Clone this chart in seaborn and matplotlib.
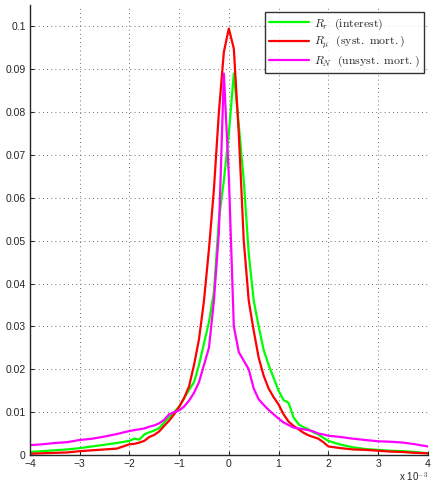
import numpy as np
import pandas as pd
import matplotlib
matplotlib.use('Agg')
import matplotlib.pyplot as plt
import seaborn as sns

# x positions (in units of 1e-3)
x_vals = [-4.0, -3.75, -3.5, -3.25, -3.0, -2.75, -2.5, -2.25,
          -2.0, -1.9, -1.8, -1.7, -1.6, -1.5, -1.4, -1.3, -1.2, -1.1,
          -1.0, -0.9, -0.8, -0.7, -0.6, -0.5, -0.4, -0.3, -0.2, -0.1,
          0.0, 0.1, 0.2, 0.3, 0.4, 0.5, 0.6, 0.7, 0.8, 0.9,
          1.0, 1.1, 1.2, 1.3, 1.4, 1.5, 1.6, 1.7, 1.8, 1.9, 2.0,
          2.25, 2.5, 2.75, 3.0, 3.25, 3.5, 3.75, 4.0]

# interest
r_interest = [0.0007, 0.0009, 0.0011, 0.0013, 0.0016, 0.0020, 0.0024, 0.0028,
              0.0033, 0.0038, 0.0036, 0.0048, 0.0053, 0.0057, 0.0063, 0.0076, 0.0088, 0.0100,
              0.0113, 0.0132, 0.0152, 0.0170, 0.0210, 0.0260, 0.0310, 0.0380, 0.0550, 0.0640,
              0.0750, 0.0890, 0.0770, 0.0640, 0.0470, 0.0360, 0.0300, 0.0245, 0.0210, 0.0180,
              0.0150, 0.0128, 0.0122, 0.0088, 0.0072, 0.0065, 0.0060, 0.0053, 0.0048, 0.0040, 0.0033,
              0.0024, 0.0018, 0.0014, 0.0012, 0.0010, 0.0009, 0.0007, 0.0004]

# systematic mortality
r_mu = [0.0003, 0.0004, 0.0005, 0.0006, 0.0009, 0.0011, 0.0013, 0.0015,
        0.0025, 0.0026, 0.0029, 0.0033, 0.0042, 0.0047, 0.0055, 0.0068, 0.0080, 0.0095,
        0.0112, 0.0133, 0.0160, 0.0210, 0.0270, 0.0360, 0.0480, 0.0620, 0.0800, 0.0940,
        0.0995, 0.0948, 0.0750, 0.0500, 0.0360, 0.0290, 0.0227, 0.0185, 0.0155, 0.0135,
        0.0118, 0.0095, 0.0078, 0.0068, 0.0060, 0.0052, 0.0046, 0.0042, 0.0038, 0.0030, 0.0020,
        0.0016, 0.0013, 0.0012, 0.0010, 0.0008, 0.0007, 0.0005, 0.0004]

# unsystematic mortality
r_n = [0.0023, 0.0025, 0.0028, 0.0030, 0.0035, 0.0038, 0.0043, 0.0049,
       0.0056, 0.0058, 0.0060, 0.0062, 0.0066, 0.0069, 0.0074, 0.0082, 0.0095, 0.0100,
       0.0104, 0.0113, 0.0127, 0.0145, 0.0170, 0.0210, 0.0250, 0.0360, 0.0520, 0.0890,
       0.0650, 0.0300, 0.0240, 0.0220, 0.0200, 0.0155, 0.0130, 0.0117, 0.0105, 0.0095,
       0.0085, 0.0076, 0.0070, 0.0064, 0.0062, 0.0060, 0.0058, 0.0055, 0.0050, 0.0048, 0.0045,
       0.0042, 0.0038, 0.0035, 0.0032, 0.0031, 0.0029, 0.0025, 0.0020]

labels = [r'$R_r\ \ \mathrm{(interest)}$',
          r'$R_\mu\ \ \mathrm{(syst.\ mort.)}$',
          r'$R_N\ \ \mathrm{(unsyst.\ mort.)}$']
colors = ['#00ff00', '#ff0000', '#ff00ff']

df = pd.DataFrame({'x': x_vals * 3,
                   'y': r_interest + r_mu + r_n,
                   'series': [labels[0]] * len(x_vals) + [labels[1]] * len(x_vals)
                   + [labels[2]] * len(x_vals)})

sns.set_style('ticks')
plt.rcParams['font.family'] = ['Liberation Sans', 'DejaVu Sans']
plt.rcParams['mathtext.fontset'] = 'cm'

fig = plt.figure(figsize=(4.33, 4.9), dpi=100)
ax = fig.add_axes([0.069, 0.0714, 0.919, 0.9186])

sns.lineplot(data=df, x='x', y='y', hue='series', palette=colors,
             linewidth=1.6, ax=ax, legend=True)

ax.set_xlim(-4, 4)
ax.set_ylim(0, 0.105)
ax.set_xticks(range(-4, 5))
ax.set_xticklabels(['\u22124', '\u22123', '\u22122', '\u22121', '0', '1', '2', '3', '4'])
yt = [0, 0.01, 0.02, 0.03, 0.04, 0.05, 0.06, 0.07, 0.08, 0.09, 0.1]
ax.set_yticks(yt)
ax.set_yticklabels(['0', '0.01', '0.02', '0.03', '0.04', '0.05', '0.06',
                    '0.07', '0.08', '0.09', '0.1'])
ax.tick_params(labelsize=7.5, direction='in', length=3, width=0.8, pad=3)
ax.grid(True, linestyle=(0, (1, 4)), color='#444444', linewidth=0.6)
ax.set_xlabel('')
ax.set_ylabel('')
for s in ['top', 'right']:
    ax.spines[s].set_visible(False)
for s in ['left', 'bottom']:
    ax.spines[s].set_linewidth(1.0)

leg = ax.legend(loc='upper right', fontsize=8.5, frameon=True, fancybox=False,
                edgecolor='black', handlelength=3.4, handletextpad=0.4,
                borderpad=0.35, labelspacing=0.22, borderaxespad=0,
                bbox_to_anchor=(0.99, 0.984))
leg.get_frame().set_linewidth(1.0)
for line in leg.get_lines():
    line.set_linewidth(1.6)

ax.text(1.0, -0.05, r'x 10$^{-3}$', transform=ax.transAxes, ha='right',
        va='center', fontsize=7)

fig.savefig('out.png', dpi=100)
